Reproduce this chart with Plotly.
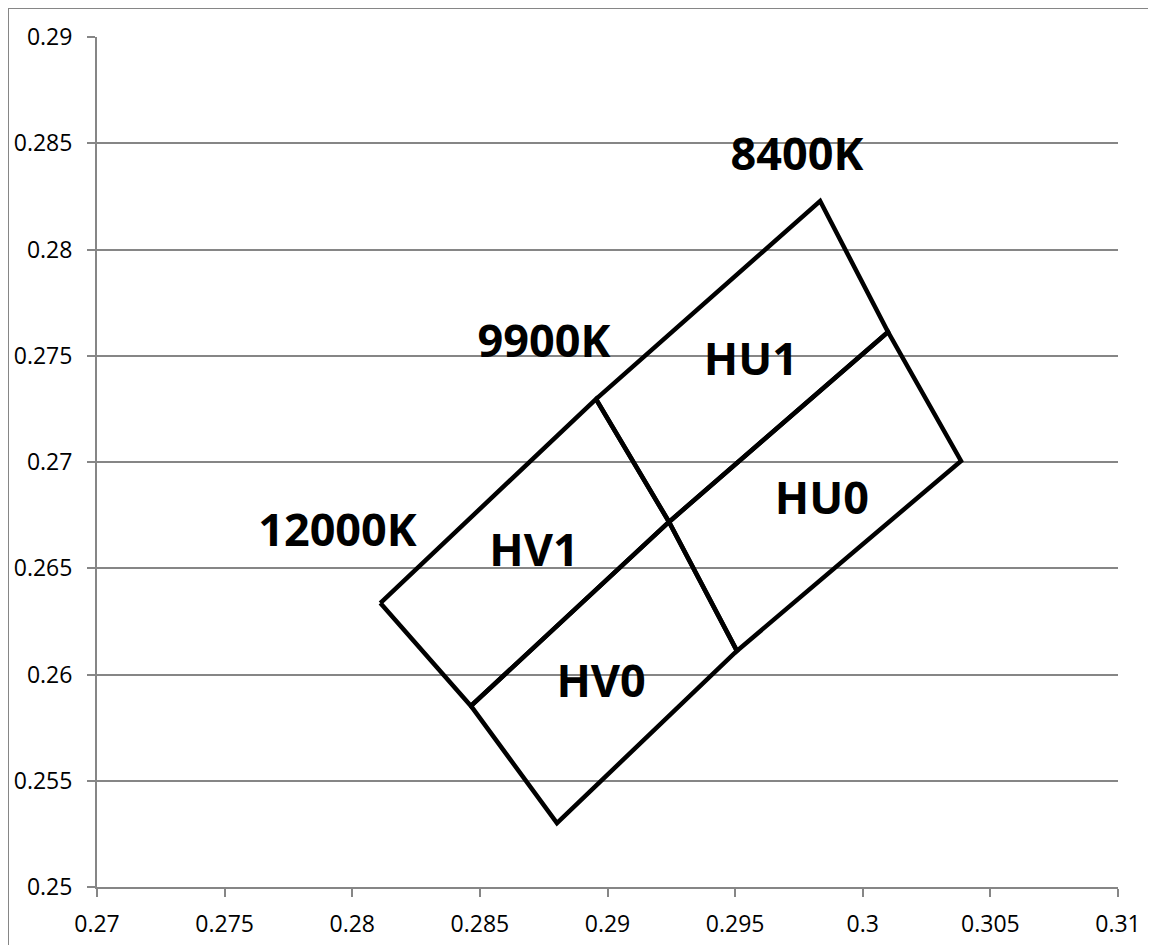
import plotly.graph_objects as go

# Corner points of the bins (CIE x, y)
p_12000 = (0.28110, 0.26336)
p_9900 = (0.28955, 0.27296)
p_8400 = (0.29833, 0.28228)
p_rmid = (0.30099, 0.27612)
p_right = (0.30385, 0.27005)
p_brmid = (0.29507, 0.26111)
p_bottom = (0.28802, 0.25301)
p_lmid = (0.28465, 0.25852)
p_center = (0.29241, 0.26718)

regions = {
    "HU1": [p_9900, p_8400, p_rmid, p_center, p_9900],
    "HU0": [p_center, p_rmid, p_right, p_brmid, p_center],
    "HV1": [p_12000, p_9900, p_center, p_lmid, p_12000],
    "HV0": [p_lmid, p_center, p_brmid, p_bottom, p_lmid],
}

label_text = ["8400K", "9900K", "12000K", "HU1", "HU0", "HV1", "HV0"]
label_x = [0.29742, 0.28751, 0.27942, 0.29562, 0.29840, 0.28712, 0.28975]
label_y = [0.28428, 0.27546, 0.26657, 0.27464, 0.26809, 0.26565, 0.25948]

x_ticks = [0.27, 0.275, 0.28, 0.285, 0.29, 0.295, 0.3, 0.305, 0.31]
x_tick_text = ["0.27", "0.275", "0.28", "0.285", "0.29", "0.295", "0.3", "0.305", "0.31"]
y_ticks = [0.25, 0.255, 0.26, 0.265, 0.27, 0.275, 0.28, 0.285, 0.29]
y_tick_text = ["0.25", "0.255", "0.26", "0.265", "0.27", "0.275", "0.28", "0.285", "0.29"]

fig = go.Figure()
for name, pts in regions.items():
    fig.add_trace(go.Scatter(
        x=[p[0] for p in pts], y=[p[1] for p in pts],
        mode="lines", line=dict(color="black", width=4.5),
        name=name, showlegend=False, hoverinfo="skip",
    ))

fig.add_trace(go.Scatter(
    x=label_x, y=label_y, text=label_text, mode="text",
    textfont=dict(family="Open Sans", size=45, color="black", weight="bold"),
    textposition="middle center", showlegend=False, hoverinfo="skip",
))

axis_color = "#868686"
W, H = 1148, 937
L, R, T, B = 89, 38, 29, 58
pw, ph = W - L - R, H - T - B
fig.update_layout(
    width=W, height=H,
    margin=dict(l=L, r=R, t=T, b=B, autoexpand=False),
    paper_bgcolor="white", plot_bgcolor="white",
    font=dict(family="Open Sans", size=23, color="black"),
    xaxis=dict(
        range=[0.27, 0.31], tickvals=x_ticks, ticktext=x_tick_text,
        showgrid=False, zeroline=False, showline=True, linecolor=axis_color, linewidth=2,
        ticks="outside", ticklen=8, tickwidth=2, tickcolor=axis_color,
        ticklabelstandoff=7, automargin=False,
    ),
    yaxis=dict(
        range=[0.25, 0.29], tickvals=y_ticks, ticktext=y_tick_text,
        showgrid=True, gridcolor=axis_color, gridwidth=1.5, zeroline=False,
        showline=True, linecolor=axis_color, linewidth=2,
        ticks="outside", ticklen=8, tickwidth=2, tickcolor=axis_color,
        ticklabelstandoff=10, automargin=False,
    ),
    shapes=[
        dict(type="line", xref="paper", yref="paper",
             x0=-L / pw, x1=(W - L) / pw, y0=(ph + T) / ph, y1=(ph + T) / ph,
             line=dict(color=axis_color, width=2)),
        dict(type="line", xref="paper", yref="paper",
             x0=-L / pw, x1=-L / pw, y0=(ph + T) / ph, y1=-B / ph,
             line=dict(color=axis_color, width=2)),
    ],
)

fig.write_html("out.html")
